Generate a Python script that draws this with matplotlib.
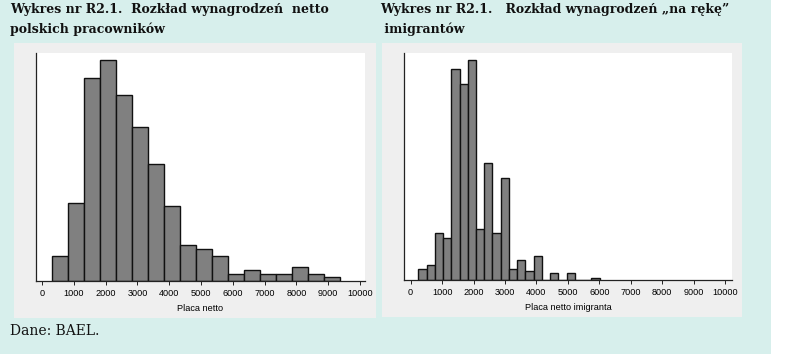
import numpy as np
import matplotlib
matplotlib.use("Agg")
import matplotlib.pyplot as plt
from matplotlib.patches import Rectangle

# Histogram data (percent of workers per bin)
pl_bin_start = 325      # PLN, left edge of the first bin
pl_bin_width = 502      # PLN
pl_heights = [2.04, 6.48, 16.83, 18.32, 15.37, 12.72, 9.71, 6.21, 2.95,
              2.62, 2.04, 0.58, 0.88, 0.58, 0.58, 1.16, 0.61, 0.30]

im_bin_start = 244
im_bin_width = 262
im_heights = [0.94, 1.32, 4.10, 3.66, 18.60, 17.25, 19.36, 4.48, 10.31,
              4.10, 8.99, 0.94, 1.73, 0.76, 2.11, 0.0, 0.59, 0.0, 0.59,
              0.0, 0.0, 0.18]

xticks = list(range(0, 10001, 1000))
pl_xlabel = "Placa netto"
im_xlabel = "Placa netto imigranta"
pl_title = ["Wykres nr R2.1.  Rozkład wynagrodzeń  netto", "polskich pracowników"]
im_title = ["Wykres nr R2.1.   Rozkład wynagrodzeń \u201ena rękę\u201d", " imigrantów"]
source = "Dane: BAEL."

W, H = 786, 354
TEAL = "#d7efec"
PANEL = "#efefef"
BAR = "#808080"

fig = plt.figure(figsize=(W / 100, H / 100), dpi=100)
fig.patch.set_facecolor("white")


def px_rect(x0, y0, x1, y1, color):
    # rectangle in pixel coords (origin top-left)
    fig.add_artist(Rectangle((x0 / W, 1 - y1 / H), (x1 - x0) / W, (y1 - y0) / H,
                             transform=fig.transFigure, facecolor=color,
                             edgecolor="none", zorder=-10))


def px_axes(x0, y0, x1, y1):
    return fig.add_axes([x0 / W, 1 - y1 / H, (x1 - x0) / W, (y1 - y0) / H])


px_rect(0, 0, 771, H, TEAL)
px_rect(14, 43, 376, 318, PANEL)
px_rect(382, 43, 742, 317, PANEL)


def draw_hist(ax, start, width, heights, xlim, ytop, xlabel):
    edges = start + width * np.arange(len(heights))
    ax.bar(edges, heights, width=width, align="edge", color=BAR,
           edgecolor="#111111", linewidth=1.0, zorder=2)
    ax.set_xlim(*xlim)
    ax.set_ylim(0, ytop)
    ax.set_facecolor("white")
    for s in ["top", "right"]:
        ax.spines[s].set_visible(False)
    for s in ["left", "bottom"]:
        ax.spines[s].set_linewidth(0.9)
        ax.spines[s].set_color("#222222")
        ax.spines[s].set_zorder(3)
    ax.set_yticks([])
    ax.set_xticks(xticks)
    ax.set_xticklabels([str(t) for t in xticks], fontsize=6.6,
                       family="Liberation Sans")
    ax.tick_params(axis="x", length=3, width=0.7, pad=3, color="#222222")
    ax.set_xlabel(xlabel, fontsize=6.6, family="Liberation Sans", labelpad=4)


ax1 = px_axes(36, 53, 365, 281)
draw_hist(ax1, pl_bin_start, pl_bin_width, pl_heights, (-189, 10157), 18.87, pl_xlabel)

ax2 = px_axes(404, 53, 732, 280)
draw_hist(ax2, im_bin_start, im_bin_width, im_heights, (-212, 10223), 19.98, im_xlabel)

title_kw = dict(fontsize=9.0, fontweight="bold", family="DejaVu Serif",
                color="#111111", va="baseline")
fig.text(10 / W, 1 - 13 / H, pl_title[0], **title_kw)
fig.text(10 / W, 1 - 33 / H, pl_title[1], **title_kw)
fig.text(380 / W, 1 - 13 / H, im_title[0], **title_kw)
fig.text(380 / W, 1 - 33 / H, im_title[1], **title_kw)

fig.text(10 / W, 1 - 335 / H, source, fontsize=10, family="DejaVu Serif",
         color="#111111", va="baseline")

fig.savefig("out.png", dpi=100, facecolor=fig.get_facecolor())
